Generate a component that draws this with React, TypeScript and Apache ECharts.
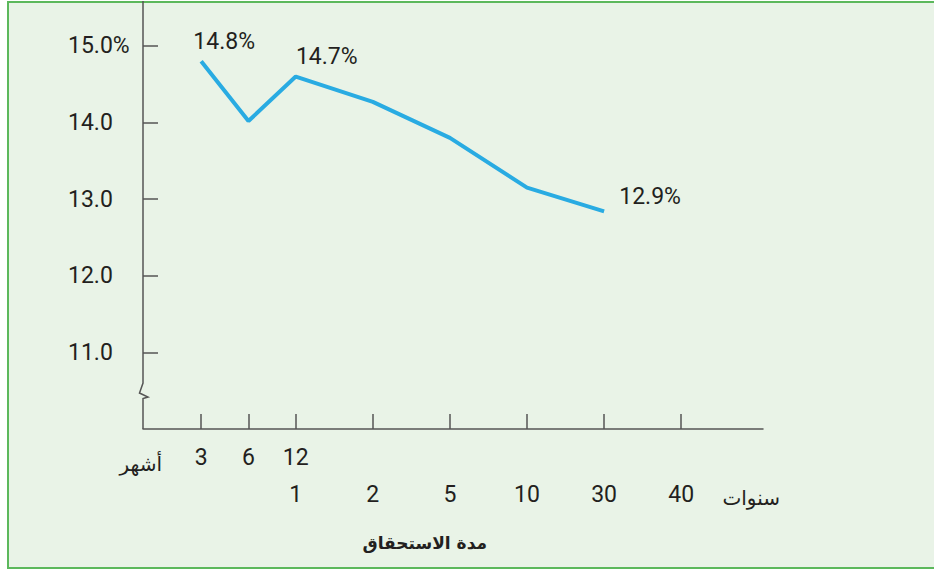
import React, { useEffect, useRef } from "react";
import * as echarts from "echarts";

// ---- data ----
const monthTickLabels = ["3", "6", "12", "", "", "", "", ""];
const yearTickLabels = ["", "", "1", "2", "5", "10", "30", "40"];
const yieldValues = [14.8, 14.02, 14.6, 14.27, 13.8, 13.15, 12.84];
const pointLabels = ["14.8%", "", "14.7%", "", "", "", "12.9%"];
const yTickValues = [11, 12, 13, 14, 15];
const yTickLabels = ["11.0", "12.0", "13.0", "14.0", "15.0%"];
const monthsWord = "أشهر";
const yearsWord = "سنوات";
const xTitle = "مدة الاستحقاق";

// ---- layout ----
const W = 934;
const H = 569;
const GRID_LEFT = 143;
const GRID_RIGHT_PX = 763;
const GRID_TOP = 3;
const GRID_BOTTOM_PX = 429;
const X_MIN = -0.23;
const X_MAX = 12.88;
const Y_MIN = 10;
const Y_MAX = 15.56;
const YEAR_STEP = 1.63;
const slotPos = (s: number) => (s <= 2 ? s + 1 : 3 + (s - 2) * YEAR_STEP);

const TEXT = "#231f20";
const AXIS = "#555555";
const LINE = "#29abe2";
const BG = "#e9f3e7";
const FRAME = "#5cb85c";
const NUM_FONT = "Roboto";
const AR_FONT = "DejaVu Sans";

const labelOffsets: Record<number, any> = {
  0: { position: "top", offset: [23, -3] },
  2: { position: "top", offset: [31, -3] },
  6: { position: "top", offset: [46, 2] },
};

export default function App() {
  const ref = useRef<HTMLDivElement>(null);
  useEffect(() => {
    if (!ref.current) return;
    const chart = echarts.init(ref.current, undefined, { renderer: "svg" });
    const tickPositions = monthTickLabels.map((_, i) => slotPos(i));
    const nearest = (v: number) => {
      let best = 0;
      tickPositions.forEach((p, i) => {
        if (Math.abs(p - v) < Math.abs(tickPositions[best] - v)) best = i;
      });
      return best;
    };
    const seriesData = yieldValues.map((v, i) => {
      const item: any = { value: [slotPos(i), v] };
      if (pointLabels[i]) {
        item.label = {
          show: true,
          formatter: pointLabels[i],
          ...labelOffsets[i],
        };
      }
      return item;
    });
    const ax = GRID_LEFT;
    const yb = GRID_BOTTOM_PX;
    chart.setOption({
      animation: false,
      backgroundColor: "transparent",
      grid: {
        left: GRID_LEFT,
        right: W - GRID_RIGHT_PX,
        top: GRID_TOP,
        bottom: H - GRID_BOTTOM_PX,
        outerBoundsMode: "none",
      },
      xAxis: {
        type: "value",
        min: X_MIN,
        max: X_MAX,
        splitLine: { show: false },
        axisLine: { show: true, onZero: false, lineStyle: { color: AXIS, width: 1.5 } },
        axisTick: {
          show: true,
          inside: true,
          length: 15,
          customValues: tickPositions,
          lineStyle: { color: AXIS, width: 1.5 },
        },
        axisLabel: {
          show: true,
          customValues: tickPositions,
          margin: 10,
          fontFamily: NUM_FONT,
          fontSize: 23,
          color: TEXT,
          lineHeight: 37,
          verticalAlign: "top",
          formatter: (v: number) => {
            const i = nearest(v);
            return monthTickLabels[i] + "\n" + yearTickLabels[i];
          },
        },
      },
      yAxis: {
        type: "value",
        min: Y_MIN,
        max: Y_MAX,
        splitLine: { show: false },
        axisLine: { show: false, onZero: false },
        axisTick: {
          show: true,
          inside: true,
          length: 15,
          customValues: yTickValues,
          lineStyle: { color: AXIS, width: 1.5 },
        },
        axisLabel: {
          show: true,
          customValues: yTickValues,
          align: "left",
          margin: 75,
          fontFamily: NUM_FONT,
          fontSize: 23,
          color: TEXT,
          verticalAlign: "middle",
          padding: [0, 0, 13, 0],
          formatter: (v: number) => {
            const i = yTickValues.indexOf(v);
            return i >= 0 ? yTickLabels[i] : "";
          },
        },
      },
      series: [
        {
          type: "line",
          data: seriesData,
          showSymbol: true,
          symbol: "circle",
          symbolSize: 1,
          itemStyle: { color: "rgba(0,0,0,0)" },
          lineStyle: { color: LINE, width: 4 },
          label: {
            show: false,
            fontFamily: NUM_FONT,
            fontSize: 23,
            color: TEXT,
            distance: 5,
          },
          emphasis: { disabled: true },
        },
      ],
      graphic: [
        {
          type: "polyline",
          shape: {
            points: [
              [ax, GRID_TOP - 2],
              [ax, 383],
              [139.5, 393],
              [148, 397],
              [ax, 398.5],
              [ax, yb],
            ],
          },
          style: { stroke: AXIS, lineWidth: 1.5, fill: null },
        },
        {
          type: "text",
          x: 162,
          y: 464,
          style: {
            text: monthsWord,
            font: `20px "${AR_FONT}"`,
            fill: TEXT,
            align: "right",
            verticalAlign: "middle",
          },
        },
        {
          type: "text",
          x: 780,
          y: 498,
          style: {
            text: yearsWord,
            font: `20px "${AR_FONT}"`,
            fill: TEXT,
            align: "right",
            verticalAlign: "middle",
          },
        },
        {
          type: "text",
          x: 487,
          y: 543,
          style: {
            text: xTitle,
            font: `bold 17px "${AR_FONT}"`,
            fill: TEXT,
            align: "right",
            verticalAlign: "middle",
          },
        },
      ],
    });
    return () => chart.dispose();
  }, []);

  return (
    <div style={{ position: "absolute", left: 0, top: 0, width: W, height: H, background: "#ffffff", overflow: "hidden" }}>
      <div
        style={{
          position: "absolute",
          left: 7,
          top: 1,
          width: W - 7,
          height: H - 1,
          boxSizing: "border-box",
          background: BG,
          borderLeft: `2px solid ${FRAME}`,
          borderTop: `2px solid ${FRAME}`,
          borderBottom: `2px solid ${FRAME}`,
        }}
      />
      <div ref={ref} style={{ position: "absolute", left: 0, top: 0, width: W, height: H }} />
    </div>
  );
}
